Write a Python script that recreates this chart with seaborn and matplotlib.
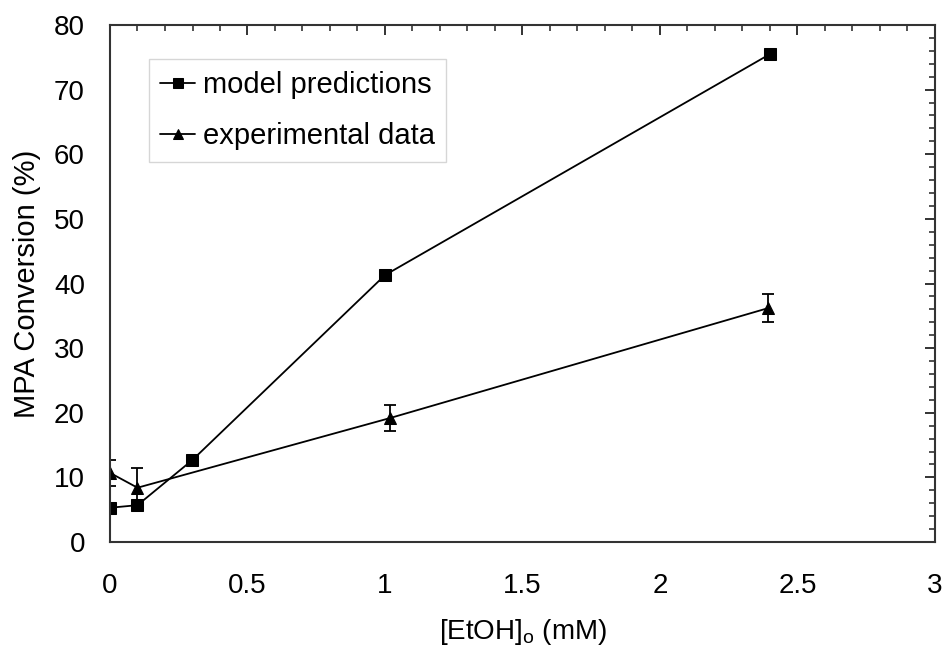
import matplotlib
matplotlib.use("Agg")
import matplotlib.pyplot as plt
import seaborn as sns
import pandas as pd
from matplotlib.ticker import MultipleLocator

sns.set_theme(style="white")
plt.rcParams['font.family'] = ['Liberation Sans', 'DejaVu Sans']

model_x = [0.0, 0.1, 0.3, 1.0, 2.4]
model_y = [5.3, 5.7, 12.7, 41.3, 75.5]
exp_x = [0.0, 0.1, 1.02, 2.394]
exp_y = [10.7, 8.4, 19.2, 36.2]
exp_err = [2.0, 3.1, 2.0, 2.2]

model_df = pd.DataFrame({"x": model_x, "y": model_y})
exp_df = pd.DataFrame({"x": exp_x, "y": exp_y})

fig = plt.figure(figsize=(9.45, 6.49), dpi=100)
ax = fig.add_axes([110/945, 1 - 542/649, (935-110)/945, (542-25)/649])

sns.lineplot(data=model_df, x="x", y="y", ax=ax, color="black", linewidth=1.3,
             marker="s", markersize=9, markeredgecolor="black", markerfacecolor="black",
             label="model predictions")
sns.lineplot(data=exp_df, x="x", y="y", ax=ax, color="black", linewidth=1.3,
             marker="^", markersize=9, markeredgecolor="black", markerfacecolor="black",
             label="experimental data")
ax.errorbar(exp_x, exp_y, yerr=exp_err, fmt="none", ecolor="black",
            elinewidth=1.3, capsize=4, capthick=1.3)

ax.set_xlim(0, 3)
ax.set_ylim(0, 80)
ax.xaxis.set_major_locator(MultipleLocator(0.5))
ax.xaxis.set_minor_locator(MultipleLocator(0.1))
ax.yaxis.set_major_locator(MultipleLocator(10))
ax.yaxis.set_minor_locator(MultipleLocator(2))
ax.set_xticks([0, 0.5, 1, 1.5, 2, 2.5, 3])
ax.set_xticklabels(["0", "0.5", "1", "1.5", "2", "2.5", "3"])
ax.tick_params(which="both", direction="in", top=True, right=True,
               color="#333333", labelsize=20, labelcolor="black")
ax.tick_params(which="major", length=7, width=1.4)
ax.tick_params(axis="x", which="major", pad=22)
ax.tick_params(axis="y", which="major", pad=18)
ax.tick_params(which="minor", length=4.5, width=1.2)
for s in ax.spines.values():
    s.set_color("#333333")
    s.set_linewidth(1.5)

ax.set_xlabel("[EtOH]$_\\mathregular{o}$ (mM)", fontsize=20, labelpad=13, color="black")
ax.set_ylabel("MPA Conversion (%)", fontsize=21, labelpad=9, color="black")

leg = ax.legend(loc="upper left", bbox_to_anchor=(0.047, 0.934), borderaxespad=0,
                fontsize=21, frameon=True, fancybox=False, edgecolor="#cccccc",
                handlelength=1.2, handletextpad=0.25, borderpad=0.4,
                labelspacing=0.8, markerscale=0.8)
leg.get_frame().set_linewidth(1.0)
for t in leg.get_texts():
    t.set_color("black")

fig.savefig("out.png", dpi=100)
